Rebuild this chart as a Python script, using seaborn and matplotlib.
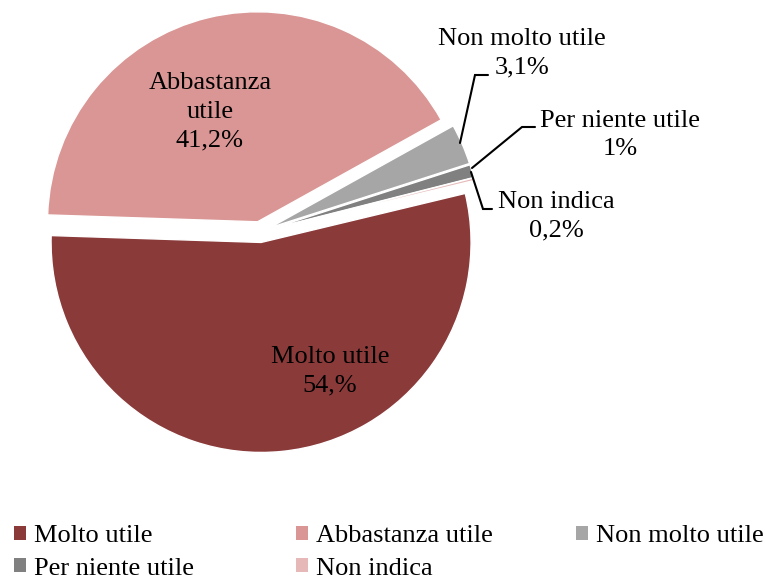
import matplotlib
matplotlib.use("Agg")
import matplotlib.pyplot as plt
import seaborn as sns
from matplotlib.patches import Patch

categories = ["Molto utile", "Abbastanza utile", "Non molto utile", "Per niente utile", "Non indica"]
values = [54.0, 41.2, 3.1, 1.0, 0.2]
value_labels = ["54,%", "41,2%", "3,1%", "1%", "0,2%"]
colors = ["#8B3A3A", "#D99694", "#A6A6A6", "#808080", "#E6B9B8"]

sns.set_theme(style="white")
plt.rcParams['font.family'] = ['Liberation Serif', 'DejaVu Serif']
plt.rcParams['text.color'] = 'black'

W, H = 765, 582
cx, cy, R = 260, 232, 210
fig = plt.figure(figsize=(W / 100, H / 100), dpi=100)
ax = fig.add_axes([0, 0, 1, 1])

wedges, _ = ax.pie(values, colors=colors, startangle=13.5, counterclock=False,
                   explode=[0.05] * 5,
                   wedgeprops=dict(edgecolor="white", linewidth=1.0))
ax.set_xlim(-cx / R, (W - cx) / R)
ax.set_ylim((cy - H) / R, cy / R)
ax.set_aspect('auto')
ax.axis('off')

def P(px, py):
    return ((px - cx) / R, (cy - py) / R)

fs = 19
ls = 1.4
kw = dict(ha="center", va="center", fontsize=fs, linespacing=ls, color="black")
ax.text(*P(210, 112), "Abbastanza\nutile\n" + value_labels[1], **kw)
ax.text(*P(330, 371), categories[0] + "\n" + value_labels[0], **kw)
ax.text(*P(522, 53), categories[2] + "\n" + value_labels[2], **kw)
ax.text(*P(620, 135), categories[3] + "\n" + value_labels[3], **kw)
ax.text(*P(556, 216), categories[4] + "\n" + value_labels[4], **kw)

def leader(pts):
    xs, ys = zip(*[P(x, y) for x, y in pts])
    ax.plot(xs, ys, color="black", lw=1.5, solid_joinstyle="miter")

leader([(460, 143), (475, 75), (488, 75)])
leader([(472, 168), (522, 127), (535, 127)])
leader([(471, 172), (483, 209), (492, 209)])

handles = [Patch(facecolor=c, edgecolor="none") for c in colors]
cols = [[0, 3], [1, 4], [2]]
xpos = [14, 296, 576]
for ci, idxs in enumerate(cols):
    fig.legend([handles[i] for i in idxs], [categories[i] for i in idxs],
               loc="upper left", bbox_to_anchor=(xpos[ci] / W, 1 - 525 / H),
               frameon=False, fontsize=fs, handlelength=0.45, handleheight=0.45,
               handletextpad=0.3, borderaxespad=0, borderpad=0,
               labelspacing=0.4, labelcolor="black")

fig.savefig("out.png", dpi=100)
